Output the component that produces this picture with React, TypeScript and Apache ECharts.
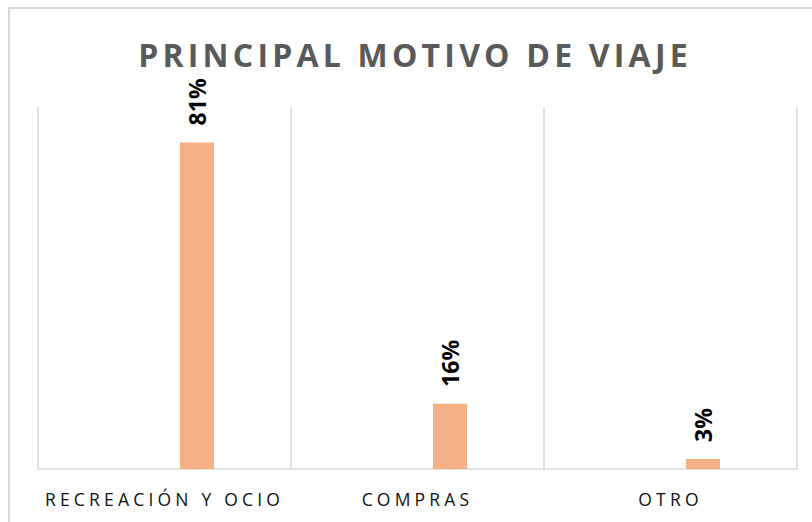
import React, { useEffect, useRef } from "react";
import * as echarts from "echarts";

const titleText = "PRINCIPAL MOTIVO DE VIAJE";
const categories = ["RECREACIÓN Y OCIO", "COMPRAS", "OTRO"];
const values = [0.812, 0.162, 0.025];
const spacerValues = [null, null, null];

export default function App() {
  const ref = useRef<HTMLDivElement>(null);

  useEffect(() => {
    if (!ref.current) return;
    const chart = echarts.init(ref.current, undefined, { renderer: "svg" });
    chart.setOption({
      animation: false,
      backgroundColor: "#ffffff",
      graphic: [
        {
          type: "rect",
          shape: { x: 9, y: 8, width: 900, height: 600 },
          style: { fill: "none", stroke: "#d9d9d9", lineWidth: 2 },
          silent: true,
        },
        {
          type: "text",
          x: 415,
          y: 54,
          silent: true,
          style: {
            text: titleText,
            align: "center",
            verticalAlign: "middle",
            fontFamily: "Open Sans",
            fontWeight: "bold",
            fontSize: 32,
            fill: "#595959",
          },
        },
      ],
      grid: { left: 38, right: 15, top: 107, bottom: 53, containLabel: false },
      xAxis: {
        type: "category",
        data: categories,
        axisLine: { show: true, lineStyle: { color: "#d9d9d9", width: 1.5 } },
        axisTick: { show: false },
        splitLine: { show: true, lineStyle: { color: "#d9d9d9", width: 1.5 } },
        axisLabel: {
          margin: 21,
          fontFamily: "Open Sans",
          fontSize: 17.5,
          color: "#111111",
        },
      },
      yAxis: {
        type: "value",
        min: 0,
        max: 0.9,
        show: false,
        splitLine: { show: false },
      },
      series: [
        {
          type: "bar",
          data: spacerValues,
          barWidth: 34,
          barGap: "91%",
          itemStyle: { color: "#F4B183" },
          silent: true,
        },
        {
          type: "bar",
          data: values,
          barWidth: 34,
          barGap: "91%",
          itemStyle: { color: "#F4B183" },
          label: {
            show: true,
            position: "top",
            distance: 17,
            rotate: 90,
            align: "left",
            verticalAlign: "middle",
            fontFamily: "Open Sans",
            fontWeight: "bold",
            fontSize: 23,
            color: "#000000",
            formatter: (p: any) => Math.round(p.value * 100) + "%",
          },
        },
      ],
    });

    const applySpacing = () => {
      const texts = ref.current?.querySelectorAll("text") || [];
      texts.forEach((t: any) => {
        const s = t.textContent || "";
        if (s === titleText) t.style.letterSpacing = "4.2px";
        else if (categories.includes(s)) t.style.letterSpacing = "4.2px";
      });
    };
    applySpacing();
    const id = requestAnimationFrame(applySpacing);

    return () => {
      cancelAnimationFrame(id);
      chart.dispose();
    };
  }, []);

  return (
    <div
      ref={ref}
      style={{ position: "absolute", left: 0, top: 0, width: 812, height: 522 }}
    />
  );
}
